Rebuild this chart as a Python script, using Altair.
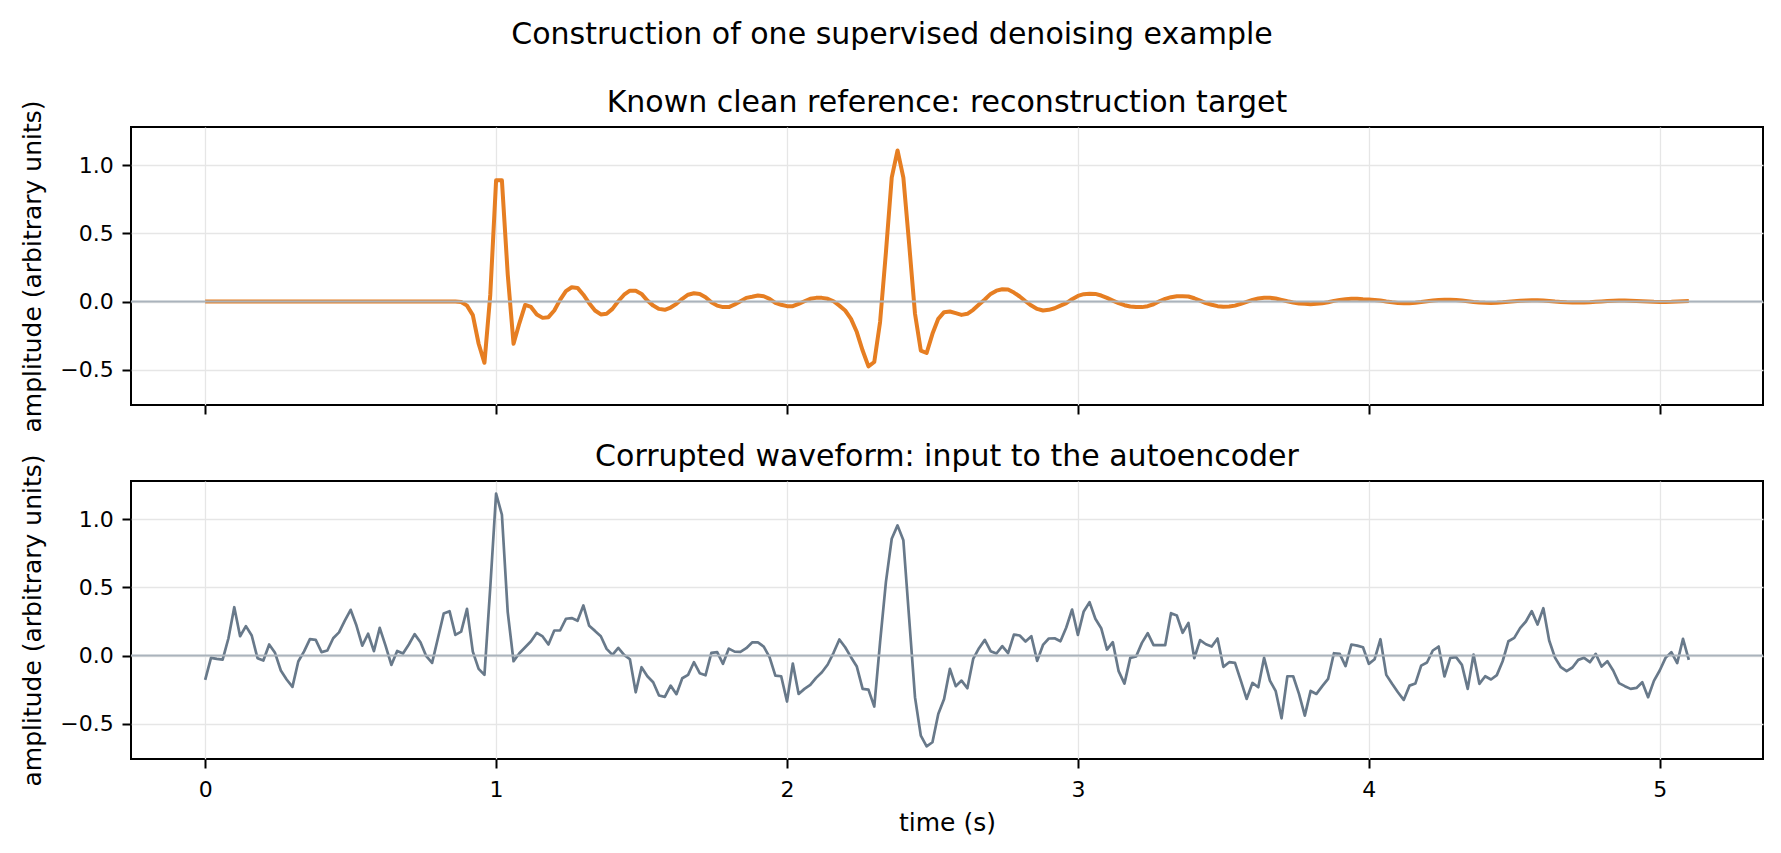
import altair as alt
import pandas as pd

# ---------------- data ----------------
SAMPLE_RATE_HZ = 50
time_s = [i / SAMPLE_RATE_HZ for i in range(256)]

clean = [0.0] * 41 + [
    0.0, 0.0, 0.0, -0.003, -0.03, -0.1, -0.31, -0.45, 0.05, 0.89,
    0.89, 0.2, -0.31, -0.16, -0.025, -0.04, -0.095, -0.12, -0.115, -0.066,
    0.012, 0.076, 0.105, 0.1, 0.05, -0.012, -0.066, -0.095, -0.09, -0.054,
    0.002, 0.05, 0.08, 0.08, 0.056, 0.007, -0.03, -0.054, -0.061, -0.044,
    -0.017, 0.02, 0.05, 0.061, 0.056, 0.032, -0.005, -0.03, -0.041, -0.041,
    -0.022, 0.002, 0.027, 0.035, 0.044, 0.039, 0.02, -0.01, -0.024, -0.034,
    -0.034, -0.017, 0.002, 0.02, 0.027, 0.027, 0.02, 0.002, -0.03, -0.066,
    -0.127, -0.224, -0.36, -0.476, -0.444, -0.15, 0.36, 0.91, 1.11, 0.91,
    0.42, -0.09, -0.36, -0.378, -0.237, -0.127, -0.078, -0.073, -0.085, -0.098,
    -0.09, -0.061, -0.022, 0.015, 0.056, 0.08, 0.09, 0.088, 0.066, 0.037,
    0.002, -0.03, -0.054, -0.066, -0.061, -0.049, -0.03, -0.012, 0.017, 0.041,
    0.054, 0.058, 0.056, 0.044, 0.027, 0.007, -0.012, -0.027, -0.037, -0.041,
    -0.041, -0.034, -0.02, 0.002, 0.02, 0.032, 0.039, 0.039, 0.037, 0.024,
    0.007, -0.012, -0.024, -0.034, -0.039, -0.037, -0.03, -0.017, -0.002, 0.012,
    0.022, 0.027, 0.027, 0.022, 0.012, 0.002, -0.007, -0.015, -0.017, -0.02,
    -0.017, -0.012, -0.005, 0.005, 0.012, 0.017, 0.02, 0.02, 0.017, 0.015,
    0.012, 0.007, 0.0, -0.006, -0.011, -0.013, -0.012, -0.009, -0.004, 0.002,
    0.007, 0.011, 0.013, 0.013, 0.011, 0.007, 0.002, -0.003, -0.007, -0.009,
    -0.01, -0.009, -0.006, -0.002, 0.002, 0.006, 0.008, 0.009, 0.009, 0.007,
    0.004, 0.0, -0.003, -0.006, -0.007, -0.008, -0.007, -0.005, -0.002, 0.001,
    0.004, 0.006, 0.007, 0.007, 0.006, 0.004, 0.002, 0.0, -0.002, -0.003,
    -0.003, -0.002, 0.0, 0.002, 0.003,
]

noisy = [
    -0.179, -0.017, -0.025, -0.03, 0.127, 0.355, 0.142, 0.216, 0.147, -0.02,
    -0.037, 0.081, 0.02, -0.11, -0.176, -0.23, -0.044, 0.03, 0.12, 0.115,
    0.025, 0.037, 0.127, 0.17, 0.257, 0.336, 0.22, 0.073, 0.16, 0.032,
    0.203, 0.073, -0.069, 0.034, 0.015, 0.081, 0.157, 0.098, -0.005, -0.054,
    0.127, 0.309, 0.326, 0.152, 0.176, 0.343, 0.029, -0.098, -0.142, 0.5,
    1.189, 1.034, 0.319, -0.042, 0.017, 0.061, 0.105, 0.167, 0.14, 0.081,
    0.184, 0.184, 0.27, 0.275, 0.255, 0.368, 0.218, 0.181, 0.142, 0.049,
    0.005, 0.056, 0.005, -0.027, -0.27, -0.086, -0.152, -0.196, -0.294, -0.304,
    -0.221, -0.284, -0.167, -0.142, -0.049, -0.13, -0.145, 0.02, 0.025, -0.061,
    0.051, 0.029, 0.027, 0.054, 0.096, 0.096, 0.066, -0.012, -0.147, -0.152,
    -0.338, -0.059, -0.282, -0.245, -0.216, -0.164, -0.123, -0.066, 0.02, 0.118,
    0.061, -0.012, -0.081, -0.245, -0.25, -0.375, 0.098, 0.539, 0.858, 0.956,
    0.846, 0.27, -0.306, -0.588, -0.667, -0.637, -0.429, -0.319, -0.098, -0.225,
    -0.184, -0.24, -0.025, 0.054, 0.115, 0.032, 0.015, 0.069, 0.017, 0.154,
    0.147, 0.103, 0.142, -0.039, 0.078, 0.125, 0.127, 0.105, 0.206, 0.338,
    0.152, 0.324, 0.392, 0.27, 0.201, 0.044, 0.098, -0.115, -0.206, -0.017,
    -0.007, 0.093, 0.164, 0.076, 0.076, 0.076, 0.311, 0.294, 0.167, 0.24,
    -0.02, 0.113, 0.083, 0.066, 0.125, -0.083, -0.049, -0.054, -0.184, -0.319,
    -0.201, -0.233, -0.017, -0.184, -0.262, -0.461, -0.152, -0.152, -0.282, -0.441,
    -0.26, -0.282, -0.225, -0.172, 0.017, 0.012, -0.078, 0.081, 0.073, 0.061,
    -0.061, -0.027, 0.12, -0.142, -0.208, -0.27, -0.326, -0.221, -0.206, -0.074,
    -0.051, 0.037, 0.066, -0.154, -0.017, -0.012, -0.069, -0.245, 0.007, -0.208,
    -0.152, -0.176, -0.144, -0.042, 0.105, 0.13, 0.201, 0.25, 0.326, 0.228,
    0.348, 0.11, -0.015, -0.086, -0.115, -0.088, -0.032, -0.017, -0.049, 0.012,
    -0.081, -0.042, -0.11, -0.203, -0.225, -0.245, -0.238, -0.196, -0.306, -0.186,
    -0.11, -0.017, 0.025, -0.056, 0.123, -0.032,
]

assert len(clean) == 256 and len(noisy) == 256

x_ticks = [0, 1, 2, 3, 4, 5]
y_ticks = [-0.5, 0.0, 0.5, 1.0]
zero_level = [0.0]

suptitle = "Construction of one supervised denoising example"
top_title = "Known clean reference: reconstruction target"
bottom_title = "Corrupted waveform: input to the autoencoder"
y_label = "amplitude (arbitrary units)"
x_label = "time (s)"

df = pd.DataFrame({"t": time_s, "clean": clean, "noisy": noisy})
zero_df = pd.DataFrame({"level": zero_level})

# ---------------- styling ----------------
FONT = "DejaVu Sans"
XDOM = [-0.255, 5.355]
YDOM = [-0.760, 1.282]
W, H = 1632, 278
GAP = 76
ORANGE = "#e67e22"
SLATE = "#68798a"
ZERO = "#aab3bc"


def y_axis():
    return alt.Axis(values=y_ticks, format=".1f", title=y_label,
                    titleX=-99, titleY=H / 2, titleAngle=270,
                    titleAlign="center", titleBaseline="middle")


def panel(field, color, width, title, bottom):
    if bottom:
        x_axis = alt.Axis(values=x_ticks, format="d", title=x_label,
                          titleX=W / 2, titleY=63, titleAlign="center",
                          titleBaseline="middle", labelPadding=11)
    else:
        x_axis = alt.Axis(values=x_ticks, labels=False, title=None)
    xs = alt.Scale(domain=XDOM, nice=False, zero=False)
    ys = alt.Scale(domain=YDOM, nice=False, zero=False)
    line = alt.Chart(df).mark_line(
        color=color, strokeWidth=width, strokeJoin="round"
    ).encode(
        x=alt.X("t:Q", scale=xs, axis=x_axis),
        y=alt.Y(f"{field}:Q", scale=ys, axis=y_axis()),
    )
    rule = alt.Chart(zero_df).mark_rule(color=ZERO, strokeWidth=2).encode(
        y=alt.Y("level:Q", scale=ys, axis=y_axis()),
    )
    return alt.layer(line, rule).properties(
        width=W, height=H,
        title=alt.TitleParams(title, anchor="middle", offset=-42,
                              baseline="alphabetic", fontSize=30),
    )


top = panel("clean", ORANGE, 4, top_title, bottom=False)
bottom = panel("noisy", SLATE, 2.7, bottom_title, bottom=True)

chart = alt.vconcat(top, bottom, spacing=GAP, bounds="flush").properties(
    title=alt.TitleParams(suptitle, anchor="middle", offset=13,
                          baseline="alphabetic", fontSize=30, frame="bounds"),
    autosize=alt.AutoSizeParams(type="none"),
    padding={"left": 131, "top": 127, "right": 18, "bottom": 726},
).configure_view(
    stroke="black", strokeWidth=2
).configure_axis(
    labelFont=FONT, labelFontSize=22, labelColor="black",
    titleFont=FONT, titleFontSize=25, titleColor="black", titleFontWeight="normal",
    tickColor="black", tickWidth=2, tickSize=9, labelPadding=8.75,
    domain=False, gridColor="#e6e6e6", gridWidth=1.3,
).configure_title(
    font=FONT, fontSize=30, fontWeight="normal", color="black"
)

chart.save("out.html", embed_options={"renderer": "svg", "actions": False})
